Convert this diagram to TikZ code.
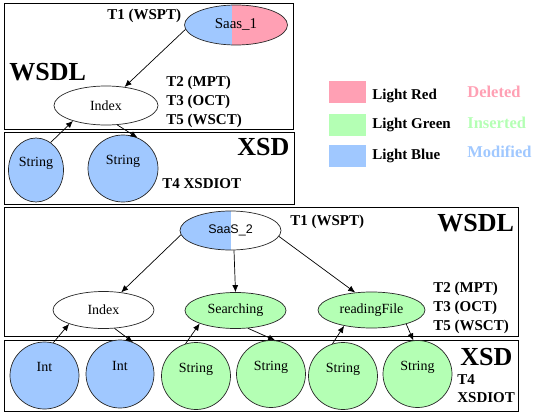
\documentclass[tikz,border=0pt]{standalone}
\usepackage{fontspec}
\setmainfont{Liberation Serif}
\newfontfamily\saasfont{Liberation Sans}
\usetikzlibrary{shapes.geometric,arrows.meta}
\definecolor{lightred}{HTML}{FFA0B4}
\definecolor{lightgreen}{HTML}{B4FFB4}
\definecolor{lightblue}{HTML}{A0C8FF}
\tikzset{
  wsdlnode/.style={ellipse, draw=black!85, inner sep=0pt, font=\fontsize{14}{16}\selectfont},
  xsdnode/.style={ellipse, draw=black!85, inner sep=0pt, minimum width=69pt, minimum height=67pt,
    text height=10pt, text depth=18pt, font=\fontsize{14}{16}\selectfont},
  tagtext/.style={anchor=base west, inner sep=0pt, font=\bfseries\fontsize{15}{17}\selectfont},
  layertext/.style={anchor=base west, inner sep=0pt, font=\bfseries\fontsize{26}{30}\selectfont},
  boxframe/.style={draw=black, line width=0.9pt},
  swatch/.style={minimum width=37pt, minimum height=22pt, inner sep=0pt},
  statetext/.style={anchor=base west, inner sep=0pt, font=\bfseries\fontsize{16.5}{18}\selectfont},
  halfblue/.style={path picture={
    \fill[lightblue] (path picture bounding box.south west) rectangle ([xshift=#1]path picture bounding box.north);}},
}
\begin{document}
\begin{tikzpicture}[x=1pt, y=-1pt, line width=0.7pt, >={Latex[length=7pt,width=6pt]}]
    \useasboundingbox (0,0) rectangle (536,415);

    % layer frames
    \draw[boxframe] (4,3) rectangle (293,129);
    \draw[boxframe] (4,132) rectangle (294,204);
    \draw[boxframe] (4,207) rectangle (518,336);
    \draw[boxframe] (4,340) rectangle (518,411);

    % first service
    \node[wsdlnode, minimum width=103pt, minimum height=40pt, font=\fontsize{15}{17}\selectfont,
      path picture={
        \fill[lightblue] (path picture bounding box.south west) rectangle ([xshift=-4pt]path picture bounding box.north);
        \fill[lightred] ([xshift=-4pt]path picture bounding box.south) rectangle (path picture bounding box.north east);}]
      (saas1) at (236,25) {Saas\_1};
    \node[wsdlnode, fill=white, minimum width=104pt, minimum height=39pt] (index1) at (106,105.5) {Index};
    \node[xsdnode, fill=lightblue, minimum width=55pt, minimum height=64pt] (str1) at (36,170) {String};
    \node[xsdnode, fill=lightblue, minimum width=70pt, minimum height=67pt] (str2) at (123,168.5) {String};

    \node[tagtext] (t1a) at (107,19.5) {T1 (WSPT)};
    \node[layertext] (wsdla) at (9,80) {WSDL};
    \node[tagtext] (t2a) at (166,86) {T2 (MPT)};
    \node[tagtext] (t3a) at (166,105) {T3 (OCT)};
    \node[tagtext] (t5a) at (166,124) {T5 (WSCT)};
    \node[layertext] (xsda) at (237,155) {XSD};
    \node[tagtext] (t4a) at (162,188) {T4 XSDIOT};

    \draw[->] (saas1.185) -- (index1.45);
    \draw[->] (index1.300) -- (str2.65);
    \draw[->] (str1.62) -- (index1.205);

    % legend
    \node[swatch, fill=lightred] (redbox) at (347.5,92) {};
    \node[swatch, fill=lightgreen] (greenbox) at (347.5,124.5) {};
    \node[swatch, fill=lightblue] (bluebox) at (347.5,156) {};
    \node[tagtext] (redname) at (372,99) {Light Red};
    \node[tagtext] (greenname) at (372,128) {Light Green};
    \node[tagtext] (bluename) at (372,159) {Light Blue};
    \node[statetext, text=lightred] (deleted) at (467,97) {Deleted};
    \node[statetext, text=lightgreen] (inserted) at (467,128) {Inserted};
    \node[statetext, text=lightblue] (modified) at (467,157) {Modified};

    % second service
    \node[wsdlnode, minimum width=101pt, minimum height=39pt, font=\saasfont\fontsize{12.5}{15}\selectfont,
      halfblue=0pt] (saas2) at (230.5,230.5) {SaaS\_2};
    \node[wsdlnode, fill=white, minimum width=101pt, minimum height=37pt] (index2) at (103.5,310) {Index};
    \node[wsdlnode, fill=lightgreen, minimum width=101pt, minimum height=36pt] (search) at (235.5,310.5) {Searching};
    \node[wsdlnode, fill=lightgreen, minimum width=107pt, minimum height=36pt] (read) at (371.5,310) {readingFile};

    \node[xsdnode, fill=lightblue] (int1) at (44.5,375.5) {Int};
    \node[xsdnode, fill=lightblue, minimum width=68pt, minimum height=68pt] (int2) at (120,374) {Int};
    \node[xsdnode, fill=lightgreen] (str3) at (196,376) {String};
    \node[xsdnode, fill=lightgreen] (str4) at (271,374) {String};
    \node[xsdnode, fill=lightgreen] (str5) at (343,376) {String};
    \node[xsdnode, fill=lightgreen] (str6) at (417.5,374) {String};

    \node[tagtext] (t1b) at (290,225) {T1 (WSPT)};
    \node[layertext] (wsdlb) at (437,231) {WSDL};
    \node[tagtext] (t2b) at (433,292) {T2 (MPT)};
    \node[tagtext] (t3b) at (433,311) {T3 (OCT)};
    \node[tagtext] (t5b) at (433,330) {T5 (WSCT)};
    \node[layertext] (xsdb) at (460,365) {XSD};
    \node[tagtext] (t4b) at (457,384) {T4};
    \node[tagtext] (xsdiot) at (457,402) {XSDIOT};

    \draw[->] (saas2.185) -- (index2.45);
    \draw[->] (saas2.-80) -- (search.north);
    \draw[->] (saas2.-7) -- (read.133);
    \draw[->] (int1.75) -- (index2.202);
    \draw[->] (index2.-59) -- (int2.68);
    \draw[->] (str3.108) -- (search.200);
    \draw[->] (search.-55) -- (str4.83);
    \draw[->] (str5.108) -- (read.210);
    \draw[->] (read.-22) -- (str6.97);
\end{tikzpicture}
\end{document}
